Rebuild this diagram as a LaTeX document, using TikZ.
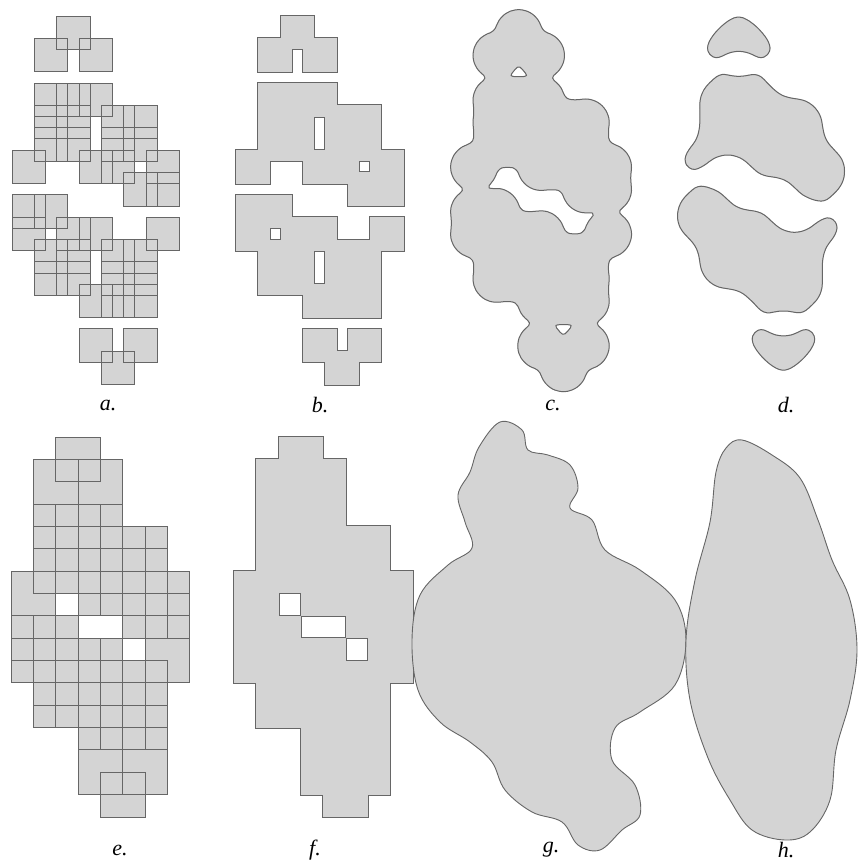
\documentclass[tikz,border=0pt]{standalone}
\usepackage{fontspec}
\setmainfont{Liberation Serif}
\definecolor{fl}{gray}{0.83}
\definecolor{ln}{gray}{0.40}
\tikzset{
  sqline/.style={draw=ln,line width=0.9pt},
  outl/.style={draw=ln,line width=2pt},
  shapebox/.style={fill=fl,draw=ln,line width=0.9pt},
  lab/.style={font=\fontsize{22}{24}\selectfont\itshape,inner sep=0pt}
}
\def\pts{2/0,1/1,3/1,1/3,2/3,3/3,1/4,2/4,4/4,5/4,1/5,2/5,4/5,5/5,0/6,3/6,4/6,6/6,5/7,6/7,0/8,1/8,0/9,2/9,3/9,6/9,1/10,2/10,4/10,5/10,1/11,2/11,4/11,5/11,3/12,4/12,5/12,3/14,5/14,4/15}
\def\s{22.35}
\makeatletter
\newcount\Qgx \newcount\Qgy \newcount\Qcol \newcount\Qrow \newcount\Qacc
\newcount\Qdx \newcount\Qdy \newcount\Qr \newcount\QRk \newcount\QRkk \newcount\QT
\newcount\QXo \newcount\QYo \newcount\QH \newcount\QNX \newcount\QNY
\newcount\Qva \newcount\Qvb \newcount\Qvc \newcount\Qvd
\newcount\Qxa \newcount\Qxb \newcount\Qya \newcount\Qyb
\newcount\Qnc \newcount\Qrs \newcount\Qnin
\newif\ifQrun \newif\ifQfirst \newif\ifQAin \newif\ifQempty
\def\Qpt#1#2{%
  \Qdx=\numexpr\Qgx-#1\relax \ifnum\Qdx<\z@ \Qdx=-\Qdx\fi
  \ifnum\Qdx<\QRk
    \Qdy=\numexpr\Qgy-#2\relax \ifnum\Qdy<\z@ \Qdy=-\Qdy\fi
    \ifnum\Qdy<\QRk
      \Qr=\numexpr\Qdx*\Qdx+\Qdy*\Qdy\relax
      \ifnum\Qr<\QRkk
        \Qr=\numexpr(\QRkk-\Qr)*1000/\QRkk\relax
        \advance\Qacc\numexpr\Qr*\Qr*\Qr/1000\relax
      \fi
    \fi
  \fi}
\def\Qsetup#1#2#3#4#5#6#7#8#9{%
  \QRk=#3\relax \QRkk=\numexpr#3*#3\relax \QT=#4\relax \QXo=#5\relax \QYo=#6\relax
  \QH=#7\relax \QNX=#8\relax \QNY=#9\relax
  \gdef\Qptlist{}%
  \foreach \i/\j in \pts {\xdef\Qptlist{\unexpanded\expandafter{\Qptlist}\noexpand\Qpt{\the\numexpr#1+\i*2235/10\relax}{\the\numexpr#2+\j*2235/10\relax}}}}
\def\Qpoint#1#2{%
  \ifQfirst
    \pgfpathmoveto{\pgfqpoint{\dimexpr#1pt/10\relax}{\dimexpr-#2pt/10\relax}}\Qfirstfalse
  \else
    \pgfpathlineto{\pgfqpoint{\dimexpr#1pt/10\relax}{\dimexpr-#2pt/10\relax}}%
  \fi}
\def\Qrect#1#2{\Qemptyfalse
  \pgfpathmoveto{\pgfqpoint{\dimexpr#1pt/10\relax}{\dimexpr-\Qya pt/10\relax}}%
  \pgfpathlineto{\pgfqpoint{\dimexpr#2pt/10\relax}{\dimexpr-\Qya pt/10\relax}}%
  \pgfpathlineto{\pgfqpoint{\dimexpr#2pt/10\relax}{\dimexpr-\Qyb pt/10\relax}}%
  \pgfpathlineto{\pgfqpoint{\dimexpr#1pt/10\relax}{\dimexpr-\Qyb pt/10\relax}}%
  \pgfpathclose}
\def\Qcross#1#2#3#4#5#6{%
  \advance\Qnc\@ne
  \edef\Qcx{\the\numexpr#3+(#5-#3)*(\QT-#1)/(#2-#1)\relax}%
  \edef\Qcy{\the\numexpr#4+(#6-#4)*(\QT-#1)/(#2-#1)\relax}%
  \Qpoint\Qcx\Qcy
  \expandafter\edef\csname Qcr\the\Qnc\endcsname{{\Qcx}{\Qcy}}}
\def\Qedge#1#2#3#4#5#6{%
  \ifnum#1<\QT
    \ifnum#2<\QT\else\Qcross#1#2#3#4#5#6\fi
  \else
    \ifnum#2<\QT\Qcross#1#2#3#4#5#6\fi
  \fi}
\def\Qseg#1#2{\xdef\Qbnd{\unexpanded\expandafter{\Qbnd}\noexpand\Qline\csname Qcr#1\endcsname\csname Qcr#2\endcsname}}
\def\Qline#1#2#3#4{\pgfpathmoveto{\pgfqpoint{\dimexpr#1pt/10\relax}{\dimexpr-#2pt/10\relax}}\pgfpathlineto{\pgfqpoint{\dimexpr#3pt/10\relax}{\dimexpr-#4pt/10\relax}}}
\def\Qpoly{%
  \Qemptyfalse\Qfirsttrue\Qnc=\z@
  \ifnum\Qva<\QT\QAinfalse\else\QAintrue\Qpoint\Qxa\Qya\fi
  \Qedge\Qva\Qvb\Qxa\Qya\Qxb\Qya
  \ifnum\Qvb<\QT\else\Qpoint\Qxb\Qya\fi
  \Qedge\Qvb\Qvc\Qxb\Qya\Qxb\Qyb
  \ifnum\Qvc<\QT\else\Qpoint\Qxb\Qyb\fi
  \Qedge\Qvc\Qvd\Qxb\Qyb\Qxa\Qyb
  \ifnum\Qvd<\QT\else\Qpoint\Qxa\Qyb\fi
  \Qedge\Qvd\Qva\Qxa\Qyb\Qxa\Qya
  \pgfpathclose
  \ifnum\Qnc=\tw@\Qseg12\fi
  \ifnum\Qnc=4 \ifQAin\Qseg12\Qseg34\else\Qseg23\Qseg41\fi\fi}
\def\Qcell{%
  \Qva=\csname Qvp\the\numexpr\Qcol-1\relax\endcsname\relax
  \Qvb=\csname Qvp\the\Qcol\endcsname\relax
  \Qvc=\csname Qvc\the\Qcol\endcsname\relax
  \Qvd=\csname Qvc\the\numexpr\Qcol-1\relax\endcsname\relax
  \Qxa=\numexpr\QXo+(\Qcol-1)*\QH\relax \Qxb=\numexpr\Qxa+\QH\relax
  \Qnin=\z@
  \ifnum\Qva<\QT\else\advance\Qnin\@ne\fi
  \ifnum\Qvb<\QT\else\advance\Qnin\@ne\fi
  \ifnum\Qvc<\QT\else\advance\Qnin\@ne\fi
  \ifnum\Qvd<\QT\else\advance\Qnin\@ne\fi
  \ifnum\Qnin=4
    \ifQrun\else\Qrs=\Qxa\Qruntrue\fi
  \else
    \ifQrun\Qrect\Qrs\Qxa\Qrunfalse\fi
    \ifnum\Qnin>\z@\Qpoly\fi
  \fi}
\def\QCellLoop{\ifnum\Qcol>\QNX\else\Qcell\advance\Qcol\@ne\expandafter\QCellLoop\fi}
\def\QBand{%
  \Qya=\numexpr\QYo+(\Qrow-1)*\QH\relax \Qyb=\numexpr\Qya+\QH\relax
  \Qrunfalse\Qemptytrue
  \Qcol=\@ne\QCellLoop
  \ifQrun\Qrect\Qrs\Qxb\fi
  \ifQempty\else\pgfusepath{fill,stroke}\fi}
\def\QValLoop{\ifnum\Qcol>\QNX\else
  \Qgx=\numexpr\QXo+\Qcol*\QH\relax \Qacc=\z@ \Qptlist
  \expandafter\edef\csname Qvc\the\Qcol\endcsname{\the\Qacc}%
  \advance\Qcol\@ne\expandafter\QValLoop\fi}
\def\QCopyLoop{\ifnum\Qcol>\QNX\else
  \expandafter\let\csname Qvp\the\Qcol\expandafter\endcsname\csname Qvc\the\Qcol\endcsname
  \advance\Qcol\@ne\expandafter\QCopyLoop\fi}
\def\QRowLoop{\ifnum\Qrow>\QNY\else
  \Qgy=\numexpr\QYo+\Qrow*\QH\relax
  \Qcol=\z@\QValLoop
  \ifnum\Qrow>\z@\QBand\fi
  \Qcol=\z@\QCopyLoop
  \advance\Qrow\@ne\expandafter\QRowLoop\fi}
\def\QDraw{%
  \pgfsetfillcolor{fl}\pgfsetstrokecolor{fl}\pgfsetlinewidth{0.7pt}%
  \gdef\Qbnd{}%
  \Qrow=\z@\QRowLoop
  \pgfsetstrokecolor{ln}\pgfsetlinewidth{1pt}\pgfsetroundcap\pgfsetroundjoin
  \Qbnd\pgfusepath{stroke}}
\makeatother
\begin{document}
\begin{tikzpicture}[x=1pt,y=-1pt]
\useasboundingbox (0,0) rectangle (857,864);
% ---------- a: squares 1.5s ----------
\foreach \i/\j in \pts {\fill[fl] (12+\i*\s,16+\j*\s) rectangle ++(33.5,33.5);}
\foreach \i/\j in \pts {\draw[sqline] (12+\i*\s,16+\j*\s) rectangle ++(33.5,33.5);}
% ---------- b: union outline ----------
\foreach \i/\j in \pts {\draw[outl] (236+\i*\s,16+\j*\s) rectangle ++(33.5,33.5);}
\foreach \i/\j in \pts {\fill[fl] (236+\i*\s,16+\j*\s) rectangle ++(33.5,33.5);}
% ---------- c: smooth level set ----------
\begin{pgfscope}
\Qsetup{4740}{330}{313}{90000}{4400}{30}{25}{82}{158}
\QDraw
\end{pgfscope}
% ---------- d: smooth level set, higher level ----------
\begin{pgfscope}
\Qsetup{6940}{260}{402}{860000}{6650}{30}{30}{62}{128}
\QDraw
\end{pgfscope}
% ---------- e: squares 2s ----------
\foreach \i/\j in \pts {\fill[fl] (11+\i*\s,437+\j*\s) rectangle ++(44.7,44.7);}
\foreach \i/\j in \pts {\draw[sqline] (11+\i*\s,437+\j*\s) rectangle ++(44.7,44.7);}
% ---------- f: union outline ----------
\foreach \i/\j in \pts {\draw[outl] (234+\i*\s,437+\j*\s) rectangle ++(44.7,44.7);}
\foreach \i/\j in \pts {\fill[fl] (234+\i*\s,437+\j*\s) rectangle ++(44.7,44.7);}
% ---------- g ----------
\draw[shapebox] plot[smooth cycle,tension=0.6] coordinates {(500,422) (522,430) (528,450) (548,455) (570,465) (578,488) (570,508) (592,520) (605,550) (640,570) (675,600) (686,640) (675,685) (640,712) (615,728) (612,760) (635,785) (640,815) (622,830) (600,850) (578,845) (562,822) (532,812) (505,790) (492,762) (470,742) (440,722) (418,690) (412,640) (420,595) (448,565) (472,548) (465,522) (458,495) (470,472) (479,447)};
% ---------- h ----------
\draw[shapebox] plot[smooth cycle,tension=0.6] coordinates {(742,440) (772,455) (800,478) (818,520) (832,560) (850,600) (857,650) (850,700) (836,750) (830,800) (810,832) (785,840) (752,830) (730,800) (708,758) (690,700) (686,640) (695,580) (710,522) (716,472) (726,448)};
% ---------- labels ----------
\node[lab] (la) at (108,405) {a.};
\node[lab] (lb) at (320,405) {b.};
\node[lab] (lc) at (553,405) {c.};
\node[lab] (ld) at (786,405) {d.};
\node[lab] (le) at (120,850) {e.};
\node[lab] (lf) at (315,850) {f.};
\node[lab] (lg) at (551,850) {g.};
\node[lab] (lh) at (786,850) {h.};
\end{tikzpicture}
\end{document}
